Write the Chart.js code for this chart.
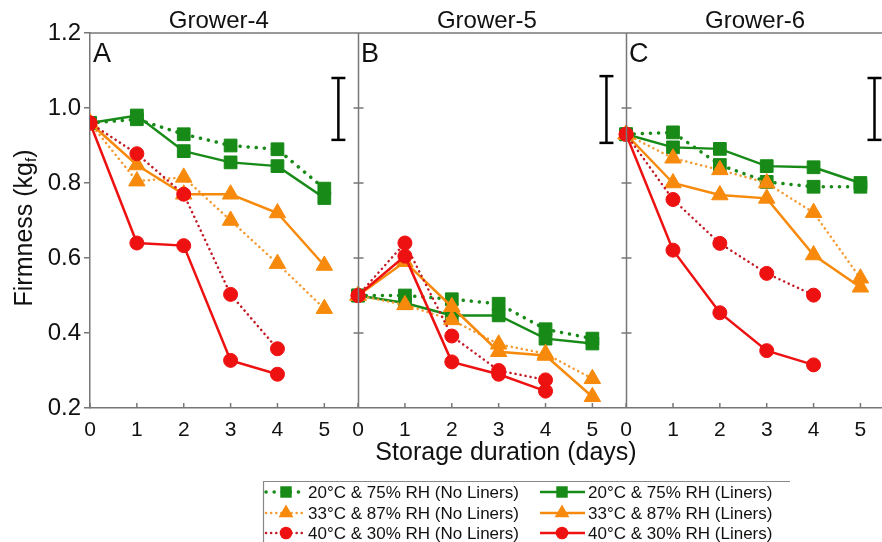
<!DOCTYPE html>
<html><head><meta charset="utf-8">
<script src="https://cdn.jsdelivr.net/npm/chart.js@4.4.1/dist/chart.umd.min.js"></script>
<style>html,body{margin:0;padding:0;background:#fff;}#wrap{width:882px;height:542px;position:relative;}</style>
</head><body><div id="wrap"><canvas id="c" width="882" height="542"></canvas></div>
<script>
// ---------- DATA ----------
const days = [0, 1, 2, 3, 4, 5];
const panelTitles = ['Grower-4', 'Grower-5', 'Grower-6'];
const panelLetters = ['A', 'B', 'C'];
const yTickValues = [0.2, 0.4, 0.6, 0.8, 1.0, 1.2];
const seriesLabels = [
  '20°C & 75% RH (No Liners)', '20°C & 75% RH (Liners)',
  '33°C & 87% RH (No Liners)', '33°C & 87% RH (Liners)',
  '40°C & 30% RH (No Liners)', '40°C & 30% RH (Liners)'
];
// Grower-4 (A)
const g4_20_noLiners = [0.96, 0.97, 0.93, 0.90, 0.89, 0.785];
const g4_20_liners   = [0.96, 0.98, 0.885, 0.855, 0.845, 0.76];
const g4_33_noLiners = [0.96, 0.805, 0.815, 0.70, 0.585, 0.465];
const g4_33_liners   = [0.96, 0.848, 0.77, 0.77, 0.72, 0.58];
const g4_40_noLiners = [0.96, 0.878, 0.77, 0.503, 0.358, null];
const g4_40_liners   = [0.96, 0.64, 0.633, 0.327, 0.29, null];
// Grower-5 (B)
const g5_20_noLiners = [0.50, 0.50, 0.49, 0.478, 0.41, 0.385];
const g5_20_liners   = [0.50, 0.48, 0.447, 0.447, 0.385, 0.372];
const g5_33_noLiners = [0.50, 0.475, 0.435, 0.37, 0.345, 0.278];
const g5_33_liners   = [0.50, 0.59, 0.47, 0.35, 0.34, 0.23];
const g5_40_noLiners = [0.50, 0.64, 0.392, 0.30, 0.275, null];
const g5_40_liners   = [0.50, 0.605, 0.323, 0.29, 0.245, null];
// Grower-6 (C)
const g6_20_noLiners = [0.93, 0.935, 0.848, 0.803, 0.79, 0.79];
const g6_20_liners   = [0.93, 0.895, 0.891, 0.845, 0.842, 0.80];
const g6_33_noLiners = [0.93, 0.866, 0.835, 0.80, 0.721, 0.546];
const g6_33_liners   = [0.93, 0.80, 0.768, 0.759, 0.608, 0.522];
const g6_40_noLiners = [0.93, 0.756, 0.639, 0.559, 0.501, null];
const g6_40_liners   = [0.93, 0.621, 0.454, 0.353, 0.315, null];
// LSD error bars per panel [low, high], at day position
const errorBarLow  = [0.915, 0.907, 0.915];
const errorBarHigh = [1.08, 1.085, 1.08];
const errorBarDay = 5.3;

// ---------- LAYOUT / STYLE ----------
const panelOffset = [0, 5.72, 11.44];
const FONT = "'Liberation Sans', Arial, sans-serif";
const GREEN = '#178a17', ORANGE = '#f78a0c', RED = '#ee1111';
const styles = [
  {color: GREEN,  line: GREEN,     dotted: true,  shape: 'rect',     r: 9,   w: 3.5, dash: [0.1, 8]},
  {color: GREEN,  line: GREEN,     dotted: false, shape: 'rect',     r: 9,   w: 2.5},
  {color: ORANGE, line: '#f59a30', dotted: true,  shape: 'triangle', r: 9.5, w: 2.5, dash: [0.1, 5]},
  {color: ORANGE, line: ORANGE,    dotted: false, shape: 'triangle', r: 9.5, w: 2.5},
  {color: RED,    line: '#c41824', dotted: true,  shape: 'circle',   r: 7,   w: 2.5, dash: [0.1, 5]},
  {color: RED,    line: RED,       dotted: false, shape: 'circle',   r: 7,   w: 2.5}
];
const panelSeries = [
  [g4_20_noLiners, g4_20_liners, g4_33_noLiners, g4_33_liners, g4_40_noLiners, g4_40_liners],
  [g5_20_noLiners, g5_20_liners, g5_33_noLiners, g5_33_liners, g5_40_noLiners, g5_40_liners],
  [g6_20_noLiners, g6_20_liners, g6_33_noLiners, g6_33_liners, g6_40_noLiners, g6_40_liners]
];

const datasets = [];
const drawOrder = [5, 4, 3, 2, 1, 0]; // red on top
panelSeries.forEach((series, p) => {
  drawOrder.forEach(s => {
    const st = styles[s];
    datasets.push({
      label: seriesLabels[s],
      data: days.map((d, i) => ({x: d + panelOffset[p], y: series[s][i]})).filter(o => o.y !== null),
      borderColor: st.line,
      backgroundColor: st.color,
      pointBackgroundColor: st.color,
      pointBorderColor: st.color,
      pointBorderWidth: 1,
      pointStyle: st.shape,
      pointRadius: st.r,
      borderWidth: st.w,
      borderDash: st.dotted ? st.dash : [],
      borderCapStyle: st.dotted ? 'round' : 'butt',
      tension: 0,
      order: s === 5 ? 0 : (6 - s)
    });
  });
});

const xTickValues = [];
panelOffset.forEach(off => days.forEach(d => xTickValues.push(d + off)));

function drawMarker(ctx, shape, r, x, y, color) {
  ctx.fillStyle = color;
  ctx.beginPath();
  if (shape === 'circle') {
    ctx.arc(x, y, r, 0, Math.PI * 2);
  } else if (shape === 'rect') {
    const s = r * Math.SQRT1_2;
    ctx.rect(x - s, y - s, 2 * s, 2 * s);
  } else {
    for (let k = 0; k < 3; k++) {
      const ang = -Math.PI / 2 + k * 2 * Math.PI / 3;
      const px = x + Math.cos(ang) * r, py = y + Math.sin(ang) * r;
      k === 0 ? ctx.moveTo(px, py) : ctx.lineTo(px, py);
    }
    ctx.closePath();
  }
  ctx.fill();
}

const panelPlugin = {
  id: 'panels',
  afterDraw(chart) {
    const {ctx, chartArea: ca, scales: {x, y}} = chart;
    ctx.save();
    const ln = (x1, y1, x2, y2) => { ctx.beginPath(); ctx.moveTo(x1, y1); ctx.lineTo(x2, y2); ctx.stroke(); };
    ctx.strokeStyle = '#777'; ctx.lineWidth = 1.5;
    ln(ca.left, ca.top, ca.right, ca.top);
    for (let p = 1; p < 3; p++) {
      const px = Math.round(x.getPixelForValue(panelOffset[p])) + 0.5;
      ln(px, ca.top, px, ca.bottom);
      yTickValues.slice(1, -1).forEach(v => { const py = y.getPixelForValue(v); ln(px - 5, py, px + 5, py); });
    }
    xTickValues.forEach(v => { const px = x.getPixelForValue(v); ln(px, ca.bottom, px, ca.bottom - 5); });

    // titles and letters
    ctx.fillStyle = '#111';
    ctx.textBaseline = 'middle'; ctx.textAlign = 'center';
    ctx.font = '24px ' + FONT;
    panelTitles.forEach((t, p) => ctx.fillText(t, x.getPixelForValue(panelOffset[p] + 2.75), 21));
    ctx.textAlign = 'left'; ctx.textBaseline = 'top';
    ctx.font = '27px ' + FONT;
    panelLetters.forEach((t, p) => ctx.fillText(t, x.getPixelForValue(panelOffset[p]) + 3, 41));

    // error bars
    ctx.strokeStyle = '#000'; ctx.lineWidth = 2.5;
    panelOffset.forEach((off, p) => {
      const px = x.getPixelForValue(off + errorBarDay);
      const y1 = y.getPixelForValue(errorBarHigh[p]), y2 = y.getPixelForValue(errorBarLow[p]);
      ln(px, y1, px, y2); ln(px - 7, y1, px + 7, y1); ln(px - 7, y2, px + 7, y2);
    });

    // x title
    ctx.fillStyle = '#111'; ctx.textAlign = 'center'; ctx.textBaseline = 'middle';
    ctx.font = '25px ' + FONT;
    ctx.fillText('Storage duration (days)', 506, 453);

    // y title with subscript
    ctx.save();
    ctx.translate(25, 228); ctx.rotate(-Math.PI / 2);
    const a = 'Firmness (kg', c = ')';
    ctx.font = '25px ' + FONT; const wa = ctx.measureText(a).width, wc = ctx.measureText(c).width;
    ctx.font = '15px ' + FONT; const wb = ctx.measureText('f').width;
    let sx = -(wa + wb + wc) / 2;
    ctx.textAlign = 'left'; ctx.textBaseline = 'middle';
    ctx.font = '25px ' + FONT; ctx.fillText(a, sx, 0); sx += wa;
    ctx.font = '15px ' + FONT; ctx.fillText('f', sx, 7); sx += wb;
    ctx.font = '25px ' + FONT; ctx.fillText(c, sx, 0);
    ctx.restore();

    // legend
    ctx.strokeStyle = '#888'; ctx.lineWidth = 1.2;
    ln(263, 481.5, 790, 481.5); ln(263.5, 481, 263.5, 542);
    const rows = [492, 513, 533];
    const cols = [{x1: 266, x2: 304, m: 286, t: 308}, {x1: 540, x2: 585, m: 562, t: 588}];
    ctx.font = '17px ' + FONT; ctx.textAlign = 'left'; ctx.textBaseline = 'middle';
    for (let s = 0; s < 6; s++) {
      const st = styles[s], r = rows[Math.floor(s / 2)], c = cols[s % 2];
      ctx.strokeStyle = st.line; ctx.lineWidth = st.w;
      ctx.setLineDash(st.dotted ? st.dash : []); ctx.lineCap = st.dotted ? 'round' : 'butt';
      ln(c.x1, r, c.x2, r);
      ctx.setLineDash([]); ctx.lineCap = 'butt';
      drawMarker(ctx, st.shape, st.r * 0.9, c.m, r, st.color);
      ctx.fillStyle = '#111';
      ctx.fillText(seriesLabels[s], c.t, r + 1);
    }
    ctx.restore();
  }
};

new Chart(document.getElementById('c'), {
  type: 'line',
  data: {datasets},
  options: {
    responsive: false, animation: false, devicePixelRatio: 1,
    layout: {autoPadding: false, padding: {top: 33, left: 0, right: 0, bottom: 0}},
    plugins: {legend: {display: false}, tooltip: {enabled: false}, title: {display: false}},
    scales: {
      x: {
        type: 'linear', min: 0, max: 16.9,
        afterBuildTicks: sc => { sc.ticks = xTickValues.map(v => ({value: v})); },
        afterFit: sc => { sc.height = 134; },
        ticks: {
          autoSkip: false, maxRotation: 0, padding: 2, color: '#111',
          font: {family: FONT, size: 21},
          callback: v => { const p = v < panelOffset[1] - 0.01 ? 0 : (v < panelOffset[2] - 0.01 ? 1 : 2); return String(Math.round(v - panelOffset[p])); }
        },
        grid: {display: false},
        border: {display: true, color: '#777', width: 1.5}
      },
      y: {
        min: 0.2, max: 1.2,
        afterBuildTicks: sc => { sc.ticks = yTickValues.map(v => ({value: v})); },
        afterFit: sc => { sc.width = 90; },
        ticks: {padding: 3, color: '#111', font: {family: FONT, size: 24}, callback: v => Number(v).toFixed(1)},
        grid: {display: true, drawOnChartArea: false, drawTicks: true, tickLength: 6, color: '#777', lineWidth: 1.5},
        border: {display: true, color: '#777', width: 1.5}
      }
    }
  },
  plugins: [panelPlugin]
});
</script></body></html>
